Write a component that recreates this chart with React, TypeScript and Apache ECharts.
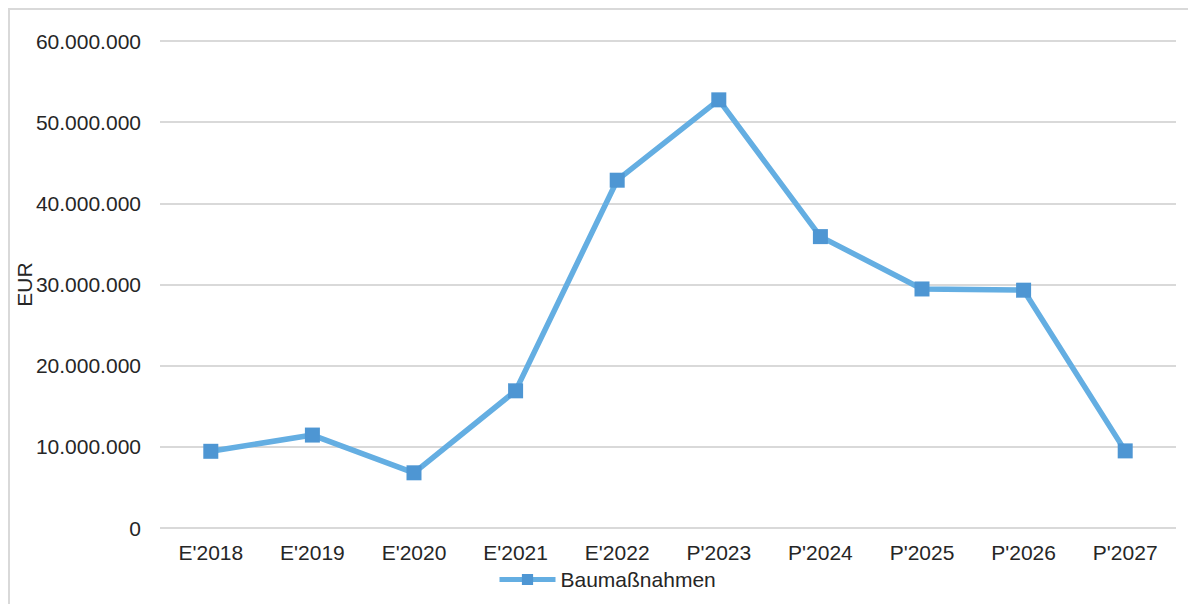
import React, { useEffect, useRef } from "react";
import * as echarts from "echarts";

const categories = ["E'2018", "E'2019", "E'2020", "E'2021", "E'2022", "P'2023", "P'2024", "P'2025", "P'2026", "P'2027"];
const seriesName = "Baumaßnahmen";
const values = [9450000, 11450000, 6800000, 16900000, 42850000, 52750000, 35900000, 29450000, 29300000, 9500000];
const yTicks = { min: 0, max: 60000000, interval: 10000000 };
const yAxisName = "EUR";

const FONT = "'Liberation Sans', Arial, sans-serif";
const TEXT = "#262626";
const FS = 21;

function fmt(v: number): string {
  return String(Math.round(v)).replace(/\B(?=(\d{3})+(?!\d))/g, ".");
}

export default function App() {
  const ref = useRef<HTMLDivElement>(null);
  useEffect(() => {
    if (!ref.current) return;
    const chart = echarts.init(ref.current, null, { renderer: "svg" });
    chart.setOption({
      animation: false,
      backgroundColor: "#ffffff",
      textStyle: { fontFamily: FONT },
      grid: { left: 150, right: 12, top: 31, bottom: 76, containLabel: false, outerBoundsMode: "none" },
      legend: {
        data: [seriesName],
        left: 482,
        top: 554,
        itemWidth: 56,
        itemHeight: 14,
        itemGap: 10,
        lineStyle: { width: 5 },
        textStyle: { fontFamily: FONT, fontSize: FS, color: TEXT },
      },
      xAxis: {
        type: "category",
        data: categories,
        boundaryGap: true,
        axisLine: { show: false },
        axisTick: { show: false },
        axisLabel: { fontFamily: FONT, fontSize: FS, color: TEXT, margin: 14 },
        splitLine: { show: false },
      },
      yAxis: {
        type: "value",
        min: yTicks.min,
        max: yTicks.max,
        interval: yTicks.interval,
        name: yAxisName,
        nameLocation: "middle",
        nameRotate: 90,
        nameGap: 125,
        nameMoveOverlap: false,
        nameTextStyle: { fontFamily: FONT, fontSize: FS, color: TEXT },
        axisLine: { show: false },
        axisTick: { show: false },
        axisLabel: { fontFamily: FONT, fontSize: FS, color: TEXT, margin: 19, formatter: (v: number) => fmt(v) },
        splitLine: { show: true, lineStyle: { color: "#d9d9d9", width: 2 } },
      },
      series: [
        {
          name: seriesName,
          type: "line",
          data: values,
          symbol: "rect",
          symbolSize: 15,
          itemStyle: { color: "#4E96D3" },
          lineStyle: { color: "#64AEE2", width: 5.5 },
        },
      ],
    });
    return () => chart.dispose();
  }, []);
  return (
    <div
      style={{
        width: 1180,
        height: 596,
        borderTop: "2px solid #d9d9d9",
        borderLeft: "2px solid #d9d9d9",
        boxSizing: "border-box",
        position: "relative",
      }}
    >
      <div ref={ref} style={{ position: "absolute", left: 0, top: 0, width: 1178, height: 594 }} />
    </div>
  );
}
